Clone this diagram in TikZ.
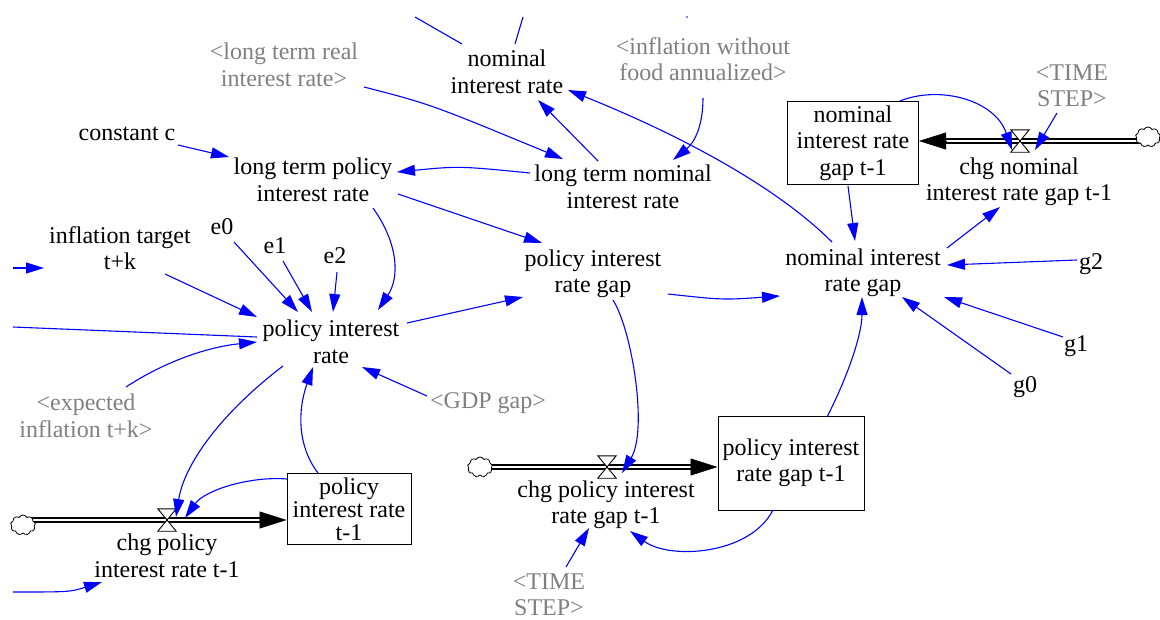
\documentclass[tikz,border=0pt]{standalone}
\usepackage{fontspec}
\setmainfont{Liberation Serif}
\usetikzlibrary{arrows.meta,calc,shapes.symbols}
\pgfdeclarelayer{paper}
\pgfdeclarelayer{pipes}
\pgfsetlayers{paper,pipes,main}
\definecolor{linkblue}{RGB}{0,0,255}
\definecolor{shadowgray}{RGB}{128,128,128}
\newcommand{\labelfont}{\fontsize{24}{26.5}\selectfont}
\newcommand{\tightfont}{\fontsize{24}{23}\selectfont}

\begin{document}
\begin{tikzpicture}[x=1pt,y=-1pt,
  var/.style={align=center,inner sep=0pt,font=\labelfont},
  shadowvar/.style={var,text=shadowgray},
  stockbox/.style={draw,line width=1pt,align=center,inner sep=0pt,font=\labelfont},
  link/.style={draw=linkblue,line width=1.1pt,-{Triangle[length=18pt,width=11pt]}},
  plainlink/.style={draw=linkblue,line width=1.1pt},
  pipe/.style={draw=black,line width=1.3pt,double=white,double distance=2.8pt},
  flowtip/.style={line width=0.5pt,-{Triangle[length=27pt,width=17pt]}},
  valve/.style={inner sep=0pt,minimum width=18pt,minimum height=22pt},
  source/.style={cloud,cloud puffs=9,cloud puff arc=130,draw,fill=white,line width=0.8pt,
    inner sep=0pt,minimum width=25pt,minimum height=20pt,aspect=1.2}
]
\begin{pgfonlayer}{paper}
  \fill[white] (0,0) rectangle (1160,619);
\end{pgfonlayer}
\useasboundingbox (0,0) rectangle (1160,619);

% ---------- variables ----------
\node[shadowvar] (ltr) at (284,65) {<long term real\\interest rate>};
\node[var] (nir) at (507,72) {nominal\\interest rate};
\node[shadowvar] (infl) at (703,59) {<inflation without\\food annualized>};
\node[stockbox,minimum width=131pt,minimum height=83pt] (nirg1) at (853,143) {nominal\\interest rate\\gap t-1};
\node[shadowvar] (ts1) at (1072,86) {<TIME\\STEP>};
\node[valve] (v1) at (1020,141) {};
\node[source] (c1) at (1148,137) {};
\node[var] (cnirg) at (1019,182) {chg nominal\\interest rate gap t-1};
\node[var] (cc) at (127,134) {constant c};
\node[var] (ltp) at (313,180) {long term policy\\interest rate};
\node[var] (ltn) at (623,187) {long term nominal\\interest rate};
\node[var] (pirg) at (593,274) {policy interest\\rate gap};
\node[var] (nirg) at (863,273) {nominal interest\\rate gap};
\node[var] (g2) at (1091,264) {g2};
\node[var] (g1) at (1076,346) {g1};
\node[var] (g0) at (1025,387) {g0};
\node[var] (it) at (120,248) {inflation target\\t+k};
\node[var] (e0) at (222,227) {e0};
\node[var] (e1) at (275,246) {e1};
\node[var] (e2) at (335,256) {e2};
\node[var] (pir) at (331,342) {policy interest\\rate};
\node[shadowvar] (ei) at (86,416) {<expected\\inflation t+k>};
\node[shadowvar] (gdp) at (488,403) {<GDP gap>};
\node[stockbox,minimum width=146pt,minimum height=94pt] (pirg1) at (791,463) {policy interest\\rate gap t-1};
\node[source] (c2) at (480,467) {};
\node[valve] (v2) at (607,467) {};
\node[var] (cpirg) at (606,505) {chg policy interest\\rate gap t-1};
\node[shadowvar] (ts2) at (549,595) {<TIME\\STEP>};
\node[stockbox,font=\tightfont,minimum width=124pt,minimum height=71pt] (pir1) at (349,509) {policy\\interest rate\\t-1};
\node[source] (c3) at (23,525) {};
\node[valve] (v3) at (167,520) {};
\node[var] (cpir) at (167,556) {chg policy\\interest rate t-1};

% loose ends of links that continue beyond the sheet
\coordinate (t1) at (415,17);
\coordinate (t2) at (523,17);
\coordinate (lf1) at (13,327);
\coordinate (lf2) at (13,268);
\coordinate (lf3) at (44,268);
\coordinate (lf4) at (13,592);
\coordinate (lf5) at (102,582);

% ---------- flows (pipes, heads, valves) ----------
\begin{pgfonlayer}{pipes}
  \draw[pipe] (c1 |- v1) -- ($(nirg1.east |- v1)+(20,0)$);
  \draw[pipe] (c2 |- v2) -- ($(pirg1.west |- v2)+(-20,0)$);
  \draw[pipe] (c3 |- v3) -- ($(pir1.west |- v3)+(-20,0)$);
\end{pgfonlayer}
\draw[flowtip] ($(nirg1.east |- v1)+(27,0)$) -- (nirg1.east |- v1);
\draw[flowtip] ($(pirg1.west |- v2)+(-27,0)$) -- (pirg1.west |- v2);
\draw[flowtip] ($(pir1.west |- v3)+(-27,0)$) -- (pir1.west |- v3);
\foreach \v in {v1,v2,v3}
  \draw[line width=0.9pt,fill=white] (\v.north west) -- (\v.north east)
    -- (\v.south west) -- (\v.south east) -- cycle;

% ---------- links ----------
\draw[plainlink] ($(nir)+(-45,-28)$) -- (t1);
\draw[plainlink] ($(nir)+(8,-28)$) -- (t2);
\fill[linkblue] (687,17) circle (0.8pt);
\draw[link] ($(ltr)+(80,22)$) .. controls (430,104) .. ($(ltn)+(-60,-28)$);
\draw[link] ($(ltn)+(-25,-26)$) -- ($(nir)+(31,28)$);
\draw[link] ($(infl)+(0,39)$) .. controls (703,125) and (695,142) .. ($(ltn)+(50,-27)$);
\draw[link] ($(nirg)+(-31,-31)$) .. controls (772,182) and (668,130) .. ($(nir)+(61,18)$);
\draw[link] ($(nirg1)+(47,-42)$) .. controls (940,85) and (995,100) .. ($(v1)+(-8,9)$);
\draw[link] ($(ts1)+(-15,27)$) -- ($(v1)+(15,9)$);
\draw[link] ($(nirg1)+(-5,43)$) -- ($(nirg)+(-8,-32)$);
\draw[link] ($(nirg)+(84,-25)$) -- ($(cnirg)+(-19,25)$);
\draw[link] ($(g2)+(-14,-4)$) -- ($(nirg)+(84,-8)$);
\draw[link] ($(g1)+(-13,-9)$) -- ($(nirg)+(81,24)$);
\draw[link] ($(g0)+(-14,-13)$) -- ($(nirg)+(39,24)$);
\draw[link] ($(pirg)+(75,20)$) .. controls (723,300) .. ($(nirg)+(-83,23)$);
\draw[link] ($(pirg1)+(36,-46)$) .. controls (850,372) and (862,332) .. ($(nirg)+(-1,24)$);
\draw[link] ($(pirg)+(20,26)$) .. controls (632,330) and (648,430) .. ($(v2)+(15,6)$);
\draw[link] ($(pirg1)+(-18,47)$) .. controls (750,555) and (670,560) .. ($(cpirg)+(24,26)$);
\draw[link] ($(ts2)+(17,-28)$) -- ($(cpirg)+(-17,23)$);
\draw[link] ($(ltn)+(-93,-14)$) .. controls (459,166) .. ($(ltp)+(84,-8)$);
\draw[link] ($(cc)+(51,11)$) -- ($(ltp)+(-84,-23)$);
\draw[link] ($(ltp)+(85,14)$) -- ($(pirg)+(-51,-31)$);
\draw[link] ($(ltp)+(60,28)$) .. controls (398,243) and (400,277) .. ($(pir)+(47,-32)$);
\draw[link] ($(pir)+(76,-19)$) -- ($(pirg)+(-70,23)$);
\draw[link] ($(it)+(45,26)$) -- ($(pir)+(-74,-25)$);
\draw[link] ($(e0)+(12,15)$) -- ($(pir)+(-33,-30)$);
\draw[link] ($(e1)+(8,15)$) -- ($(pir)+(-19,-30)$);
\draw[link] ($(e2)+(2,16)$) -- ($(pir)+(2,-30)$);
\draw[plainlink] (lf1) -- ($(pir)+(-74,-5)$);
\draw[link] (lf2) -- (lf3);
\draw[link] ($(ei)+(40,-29)$) .. controls (164,362) and (207,347) .. ($(pir)+(-74,0)$);
\draw[link] ($(gdp)+(-61,-7)$) -- ($(pir)+(31,25)$);
\draw[link] ($(pir1)+(-31,-36)$) .. controls (298,447) and (297,412) .. ($(pir)+(-18,25)$);
\draw[link] ($(pir)+(-48,24)$) .. controls (220,414) and (184,465) .. ($(v3)+(9,-3)$);
\draw[link] ($(pir1)+(-62,-30)$) .. controls (250,476) and (205,490) .. ($(v3)+(18,-2)$);
\draw[link] (lf4) .. controls (70,592) .. (lf5);
\end{tikzpicture}
\end{document}
